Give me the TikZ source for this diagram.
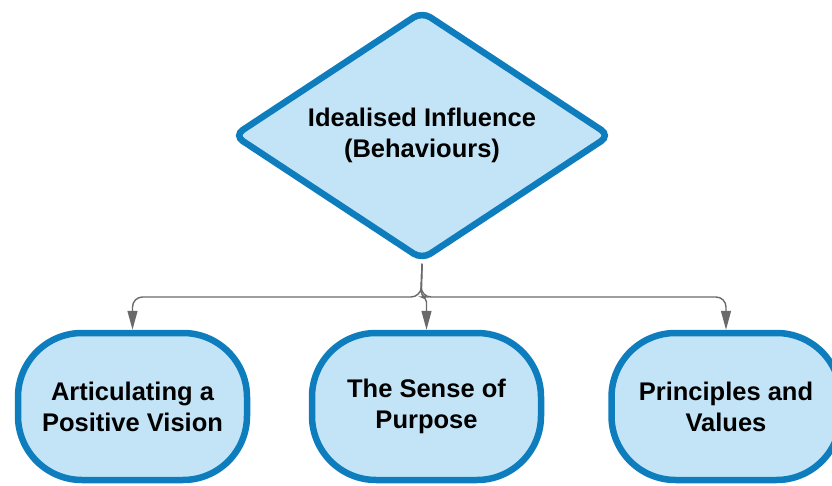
\documentclass[tikz,border=0pt]{standalone}
\usepackage{fontspec}
\setmainfont{Liberation Sans}
\usetikzlibrary{shapes.geometric,arrows.meta}
\definecolor{fillblue}{HTML}{C3E4F6}
\definecolor{strokeblue}{HTML}{0E7DBD}
\definecolor{conngray}{HTML}{6A6A6A}
\tikzset{
  shapebase/.style={draw=strokeblue, fill=fillblue, line width=6.5pt, align=center,
    font=\bfseries\fontsize{25.5}{31}\selectfont, inner sep=0pt},
  decisionbox/.style={shapebase, diamond, aspect=1.5, minimum width=378pt, minimum height=250pt, rounded corners=10pt},
  termbox/.style={shapebase, rectangle, minimum width=229pt, minimum height=147pt, rounded corners=64pt},
  conn/.style={draw=conngray, line width=1.4pt, -{Triangle[length=19pt,width=10pt]}, rounded corners=10pt}
}
\begin{document}
\begin{tikzpicture}[x=1pt,y=-1pt]
\useasboundingbox (0,0) rectangle (832,486);
\clip (0,0) rectangle (832,486);
\node[decisionbox] (d) at (422,135.5) {Idealised Influence\\(Behaviours)};
\node[termbox] (a) at (132.5,406.5) {Articulating a\\Positive Vision};
\node[termbox] (b) at (426.5,406.5) {The Sense of\\Purpose};
\node[termbox] (c) at (726,406.5) {Principles and\\Values};
\coordinate (j) at (421,297);
\draw[conn] (d.south) -- (j) -| (a.north);
\draw[conn, rounded corners=5pt] (d.south) -- (j) -| (b.north);
\draw[conn] (d.south) -- (j) -| (c.north);
\end{tikzpicture}
\end{document}
